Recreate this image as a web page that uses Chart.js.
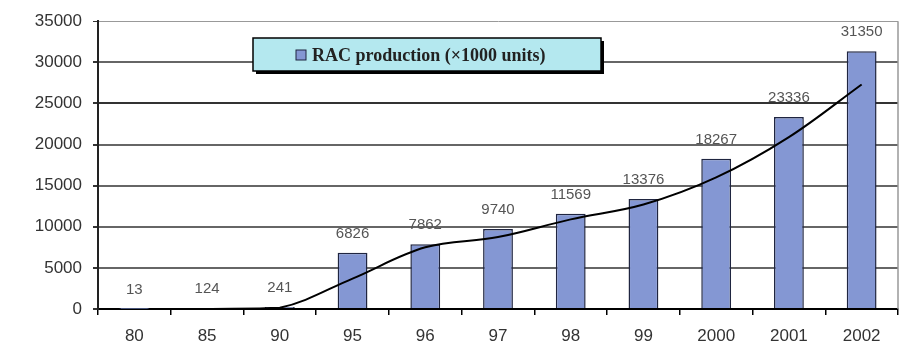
<!DOCTYPE html>
<html>
<head>
<meta charset="utf-8">
<script src="https://cdn.jsdelivr.net/npm/chart.js@4/dist/chart.umd.min.js"></script>
<style>
  html, body { margin: 0; padding: 0; background: #fff; }
  #wrap { width: 922px; height: 361px; position: relative; }
</style>
</head>
<body>
<div id="wrap"><canvas id="racChart"></canvas></div>
<script>
const years = ["80", "85", "90", "95", "96", "97", "98", "99", "2000", "2001", "2002"];
const production = [13, 124, 241, 6826, 7862, 9740, 11569, 13376, 18267, 23336, 31350];
const trend = [null, 0, 150, 3700, 7500, 8750, 10900, 12700, 16000, 20900, 27300];
const yTicks = [0, 5000, 10000, 15000, 20000, 25000, 30000, 35000];
const legendText = "RAC production (\u00d71000 units)";

// values above each bar
const barLabels = {
    id: "barLabels",
    afterDatasetsDraw(chart) {
        const ctx = chart.ctx;
        const meta = chart.getDatasetMeta(0);
        ctx.save();
        ctx.font = "15px 'Liberation Sans', Arial, sans-serif";
        ctx.fillStyle = "#555";
        ctx.textAlign = "center";
        ctx.textBaseline = "middle";
        meta.data.forEach((bar, i) => {
            ctx.fillText(String(production[i]), bar.x, bar.y - 19);
        });
        ctx.restore();
    }
};

// gray frame line on the right side of the plot
const rightBorder = {
    id: "rightBorder",
    beforeDatasetsDraw(chart) {
        const { ctx, chartArea } = chart;
        ctx.save();
        ctx.strokeStyle = "#999";
        ctx.lineWidth = 1.5;
        ctx.beginPath();
        ctx.moveTo(chartArea.right, chartArea.top);
        ctx.lineTo(chartArea.right, chartArea.bottom);
        ctx.stroke();
        ctx.restore();
    }
};

// boxed legend with drop shadow
const boxLegend = {
    id: "boxLegend",
    afterDraw(chart) {
        const ctx = chart.ctx;
        const x = 253, y = 38, w = 348, h = 33;
        ctx.save();
        ctx.fillStyle = "#000";
        ctx.fillRect(x + 3, y + 3, w, h);
        ctx.fillStyle = "#b4e8ef";
        ctx.fillRect(x, y, w, h);
        ctx.strokeStyle = "#000";
        ctx.lineWidth = 1.5;
        ctx.strokeRect(x, y, w, h);
        ctx.fillStyle = "#8497d3";
        ctx.fillRect(x + 43, y + 12, 10, 10);
        ctx.strokeStyle = "#1f2540";
        ctx.lineWidth = 1;
        ctx.strokeRect(x + 43, y + 12, 10, 10);
        ctx.font = "bold 18px 'Liberation Serif', 'Times New Roman', serif";
        ctx.fillStyle = "#222";
        ctx.textAlign = "left";
        ctx.textBaseline = "middle";
        ctx.fillText(legendText, x + 59, y + 18);
        ctx.restore();
    }
};

new Chart(document.getElementById("racChart").getContext("2d"), {
    type: "bar",
    data: {
        labels: years,
        datasets: [{
            type: "bar",
            label: legendText,
            data: production,
            backgroundColor: "#8497d3",
            borderColor: "#1f2540",
            borderWidth: 1.5,
            barPercentage: 0.41,
            categoryPercentage: 1.0,
            order: 2
        }, {
            type: "line",
            label: "trend",
            data: trend,
            borderColor: "#000",
            borderWidth: 2,
            pointRadius: 0,
            tension: 0.35,
            fill: false,
            order: 1
        }]
    },
    options: {
        responsive: true,
        maintainAspectRatio: false,
        animation: false,
        layout: { padding: { left: 0, right: 24, top: 21, bottom: 0 } },
        plugins: {
            legend: { display: false },
            tooltip: { enabled: false }
        },
        scales: {
            x: {
                offset: true,
                afterFit: (scale) => { scale.height = 52; },
                grid: {
                    offset: true,
                    drawOnChartArea: false,
                    drawTicks: true,
                    tickLength: 6,
                    color: "#000",
                    lineWidth: 1.5
                },
                border: { display: true, color: "#000", width: 2 },
                ticks: {
                    color: "#333",
                    padding: 11,
                    font: { family: "'Liberation Sans', Arial, sans-serif", size: 17 }
                }
            },
            y: {
                min: 0,
                max: 35000,
                afterFit: (scale) => { scale.width = 98; },
                afterBuildTicks: (scale) => { scale.ticks = yTicks.map(v => ({ value: v })); },
                grid: {
                    color: (c) => c.tick && c.tick.value === 35000 ? "#999" : (c.tick && c.tick.value === 25000 ? "#333" : "#666"),
                    lineWidth: (c) => c.tick && c.tick.value === 35000 ? 1 : 2,
                    tickLength: 5,
                    tickColor: "#333"
                },
                border: { display: true, color: "#222", width: 2 },
                ticks: {
                    color: "#333",
                    padding: 11,
                    callback: (v) => String(v),
                    font: { family: "'Liberation Sans', Arial, sans-serif", size: 17 }
                }
            }
        }
    },
    plugins: [rightBorder, barLabels, boxLegend]
});
</script>
</body>
</html>
